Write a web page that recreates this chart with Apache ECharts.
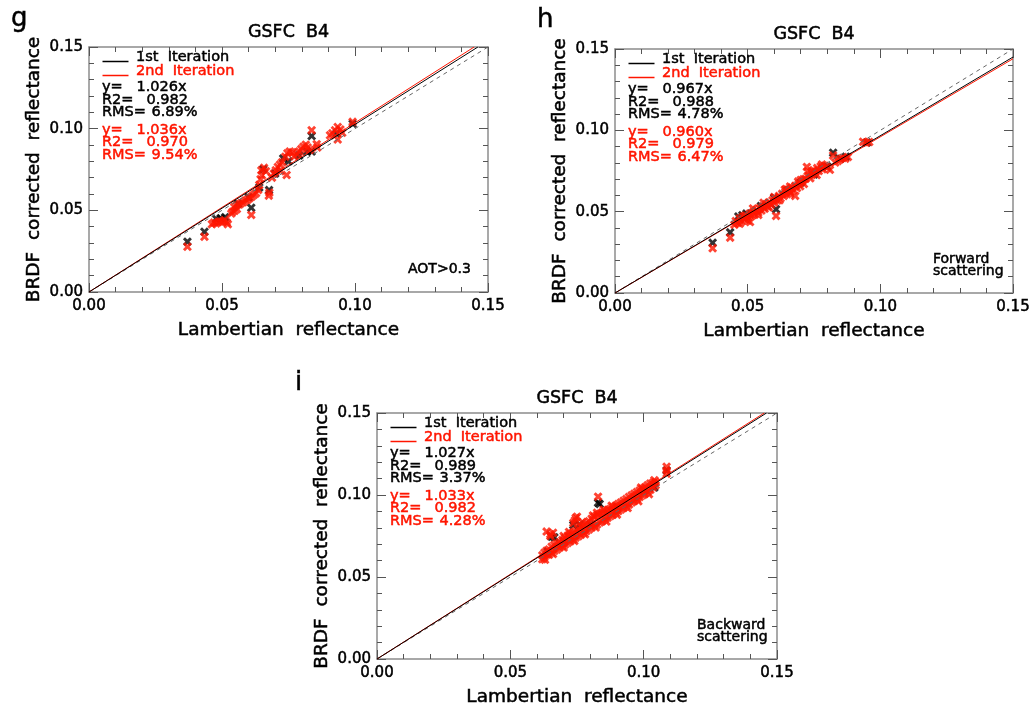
<!DOCTYPE html>
<html><head><meta charset="utf-8">
<script src="https://cdn.jsdelivr.net/npm/echarts@6/dist/echarts.min.js"></script>
<style>html,body{margin:0;padding:0;background:#fff}#c{width:1031px;height:710px}</style>
</head><body><div id="c"></div>
<script>
// ---------------- data ----------------
const panelLetters = ['g', 'h', 'i'];
const panelTitles = ['GSFC  B4', 'GSFC  B4', 'GSFC  B4'];
const panelNotes = [['AOT>0.3'], ['Forward', 'scattering'], ['Backward', 'scattering']];
const tickLabels = ['0.00', '0.05', '0.10', '0.15'];
const xTitle = 'Lambertian  reflectance';
const yTitle = 'BRDF  corrected  reflectance';
const legendNames = ['1st  Iteration', '2nd  Iteration'];

const slope1 = [1.026, 0.967, 1.027];
const r2First = ['0.982', '0.988', '0.989'];
const rmsFirst = ['6.89%', '4.78%', '3.37%'];
const slope2 = [1.036, 0.960, 1.033];
const r2Second = ['0.970', '0.979', '0.982'];
const rmsSecond = ['9.54%', '6.47%', '4.28%'];

const gRed = [[0.0370,0.0277],[0.0434,0.0338],
 [0.0462,0.0415],[0.0470,0.0425],[0.0478,0.0420],[0.0486,0.0428],[0.0494,0.0432],[0.0502,0.0430],[0.0510,0.0440],[0.0518,0.0425],[0.0522,0.0415],
 [0.0535,0.0480],[0.0540,0.0492],[0.0548,0.0498],[0.0556,0.0508],[0.0546,0.0520],[0.0555,0.0530],[0.0565,0.0535],[0.0572,0.0545],[0.0580,0.0550],[0.0588,0.0560],[0.0596,0.0565],[0.0604,0.0575],[0.0612,0.0585],[0.0620,0.0595],[0.0628,0.0605],
 [0.0610,0.0472],
 [0.0636,0.0625],[0.0640,0.0655],[0.0645,0.0690],[0.0650,0.0715],[0.0648,0.0745],[0.0658,0.0760],[0.0665,0.0740],
 [0.0676,0.0590],[0.0678,0.0608],
 [0.0688,0.0700],[0.0695,0.0725],[0.0702,0.0745],[0.0710,0.0765],[0.0718,0.0780],[0.0726,0.0795],[0.0720,0.0740],
 [0.0743,0.0716],
 [0.0738,0.0828],[0.0746,0.0850],[0.0755,0.0860],[0.0765,0.0855],[0.0772,0.0830],
 [0.0782,0.0845],[0.0790,0.0860],[0.0798,0.0875],[0.0806,0.0890],[0.0815,0.0902],[0.0822,0.0885],[0.0830,0.0870],
 [0.0837,0.0990],[0.0856,0.0905],[0.0858,0.0885],
 [0.0906,0.0960],[0.0915,0.0972],[0.0925,0.0990],[0.0935,0.1010],[0.0945,0.0995],[0.0952,0.0975],[0.0935,0.0934],
 [0.0991,0.1042]];
const gBlack = [[0.0370,0.0308],[0.0434,0.0369],[0.0478,0.0448],[0.0495,0.0452],[0.0512,0.0458],[0.0610,0.0516],
 [0.0655,0.0752],[0.0677,0.0624],[0.0837,0.0955],[0.0560,0.0540],[0.0600,0.0580],[0.0640,0.0640],[0.0700,0.0725],
 [0.0730,0.0818],[0.0750,0.0800],[0.0790,0.0835],[0.0820,0.0860],[0.0837,0.0860],[0.0930,0.0970],[0.0991,0.1030]];

const hRed = [[0.0368,0.0275],[0.0434,0.0340],[0.0607,0.0474],
 [0.0450,0.0420],[0.0455,0.0442],[0.0462,0.0430],[0.0470,0.0458],[0.0476,0.0438],[0.0482,0.0468],[0.0490,0.0452],[0.0496,0.0475],
 [0.0502,0.0462],[0.0509,0.0436],[0.0508,0.0488],[0.0515,0.0475],[0.0521,0.0498],[0.0527,0.0482],[0.0533,0.0510],[0.0540,0.0495],
 [0.0546,0.0522],[0.0552,0.0507],[0.0558,0.0533],[0.0564,0.0518],[0.0570,0.0546],[0.0576,0.0532],[0.0582,0.0558],[0.0588,0.0543],
 [0.0594,0.0570],[0.0600,0.0556],[0.0606,0.0582],[0.0612,0.0568],[0.0618,0.0596],[0.0624,0.0582],[0.0630,0.0610],[0.0636,0.0597],
 [0.0642,0.0622],[0.0645,0.0640],[0.0648,0.0607],[0.0654,0.0636],[0.0660,0.0655],[0.0660,0.0620],[0.0666,0.0648],[0.0672,0.0632],
 [0.0679,0.0597],[0.0680,0.0660],[0.0686,0.0645],[0.0690,0.0685],[0.0692,0.0672],[0.0698,0.0656],[0.0705,0.0685],[0.0710,0.0700],
 [0.0712,0.0670],[0.0718,0.0702],[0.0723,0.0775],[0.0726,0.0748],[0.0730,0.0722],[0.0736,0.0705],[0.0742,0.0732],[0.0748,0.0755],
 [0.0755,0.0742],[0.0762,0.0768],[0.0768,0.0750],[0.0775,0.0778],[0.0782,0.0760],[0.0790,0.0782],[0.0800,0.0772],[0.0810,0.0757],
 [0.0822,0.0845],[0.0830,0.0802],[0.0840,0.0812],[0.0848,0.0822],[0.0858,0.0830],[0.0868,0.0826],[0.0878,0.0836],
 [0.0935,0.0930],[0.0946,0.0924],[0.0958,0.0928],
 [0.0470,0.0425],[0.0490,0.0475],[0.0500,0.0445],[0.0520,0.0520],[0.0540,0.0480],[0.0560,0.0555],[0.0580,0.0525],
 [0.0600,0.0590],[0.0620,0.0570],[0.0640,0.0635],[0.0660,0.0610],[0.0700,0.0695],[0.0740,0.0745],[0.0760,0.0725],[0.0780,0.0790]];
const hBlack = [[0.0368,0.0309],[0.0434,0.0373],[0.0607,0.0515],[0.0822,0.0862],[0.0465,0.0470],[0.0480,0.0478],[0.0495,0.0488],
 [0.0550,0.0535],[0.0600,0.0585],[0.0650,0.0630],[0.0700,0.0680],[0.0750,0.0728],[0.0800,0.0778],[0.0850,0.0825],[0.0870,0.0838],[0.0950,0.0925]];

const iRed = [[0.0620,0.0608],[0.0620,0.0632],[0.0628,0.0620],[0.0628,0.0648],[0.0636,0.0636],[0.0636,0.0660],[0.0636,0.0777],
 [0.0645,0.0635],[0.0645,0.0668],[0.0650,0.0760],[0.0650,0.0750],[0.0655,0.0648],[0.0655,0.0685],[0.0660,0.0770],
 [0.0665,0.0660],[0.0665,0.0695],[0.0675,0.0668],[0.0675,0.0705],[0.0685,0.0680],[0.0685,0.0712],[0.0695,0.0688],[0.0695,0.0725],
 [0.0705,0.0698],[0.0705,0.0738],[0.0715,0.0708],[0.0715,0.0752],[0.0725,0.0718],[0.0725,0.0762],
 [0.0736,0.0830],[0.0742,0.0845],[0.0745,0.0860],[0.0750,0.0868],
 [0.0735,0.0728],[0.0735,0.0768],[0.0745,0.0740],[0.0745,0.0780],[0.0755,0.0748],[0.0755,0.0792],[0.0765,0.0758],[0.0765,0.0805],
 [0.0775,0.0770],[0.0775,0.0815],[0.0785,0.0780],[0.0785,0.0828],[0.0795,0.0790],[0.0795,0.0840],[0.0805,0.0802],[0.0805,0.0855],
 [0.0815,0.0812],[0.0815,0.0868],[0.0825,0.0820],[0.0825,0.0878],[0.0825,0.0892],[0.0829,0.0990],
 [0.0835,0.0832],[0.0835,0.0885],[0.0845,0.0842],[0.0845,0.0892],[0.0855,0.0852],[0.0855,0.0898],[0.0865,0.0862],[0.0865,0.0908],
 [0.0875,0.0872],[0.0875,0.0915],[0.0885,0.0880],[0.0885,0.0925],[0.0895,0.0892],[0.0895,0.0935],[0.0905,0.0902],[0.0905,0.0945],
 [0.0915,0.0912],[0.0915,0.0955],[0.0925,0.0922],[0.0925,0.0965],[0.0935,0.0932],[0.0935,0.0975],[0.0945,0.0942],[0.0945,0.0988],
 [0.0955,0.0955],[0.0955,0.0998],[0.0965,0.0965],[0.0965,0.1008],[0.0975,0.0975],[0.0975,0.1018],[0.0985,0.0988],[0.0985,0.1028],
 [0.0995,0.0998],[0.0995,0.1038],[0.1005,0.1008],[0.1005,0.1048],[0.1015,0.1020],[0.1015,0.1060],[0.1025,0.1032],[0.1025,0.1070],
 [0.1035,0.1048],[0.1035,0.1075],[0.1045,0.1060],[0.1045,0.1080],
 [0.1086,0.1130],[0.1086,0.1150],[0.1086,0.1172],
 [0.0630,0.0605],[0.0660,0.0640],[0.0700,0.0680],[0.0740,0.0720],[0.0780,0.0760],[0.0820,0.0802],[0.0860,0.0838],
 [0.0900,0.0880],[0.0940,0.0920],[0.0980,0.0962],[0.1020,0.1005],
 [0.0700,0.0750],[0.0720,0.0775],[0.0770,0.0835],[0.0810,0.0875],[0.0850,0.0910],[0.0880,0.0935],[0.0990,0.1045],[0.1040,0.1090]];
const iBlack = [[0.0655,0.0745],[0.0665,0.0742],[0.0736,0.0817],[0.0760,0.0820],[0.0829,0.0952],[0.0835,0.0945],[0.1086,0.1150],
 [0.0640,0.0655],[0.0700,0.0718],[0.0800,0.0820],[0.0900,0.0925],[0.1000,0.1027],[0.1040,0.1045]];

const redSets = [gRed, hRed, iRed];
const blackSets = [gBlack, hBlack, iBlack];

// ---------------- layout / style ----------------
const AX_MIN = 0, AX_MAX = 0.15, AX_INT = 0.05;
const grids = [
  {left: 89, top: 47, width: 399, height: 245},
  {left: 615, top: 49, width: 398, height: 244},
  {left: 377, top: 413, width: 400, height: 246}
];
const RED = '#ff1500';
const FONT = 'DejaVu Sans';
const XPATH = 'path://M0,2.3L2.3,0L5,2.7L7.7,0L10,2.3L7.3,5L10,7.7L7.7,10L5,7.3L2.3,10L0,7.7L2.7,5Z';
const MSIZE = 9;

function axisBase(gi, pos, showLabel) {
  return {
    type: 'value', gridIndex: gi, position: pos, min: AX_MIN, max: AX_MAX, interval: AX_INT,
    axisLine: {show: true, onZero: false, lineStyle: {color: '#8c8c8c', width: 1.5}},
    axisTick: {show: true, inside: true, length: 9, lineStyle: {color: '#555', width: 1}},
    minorTick: {show: true, splitNumber: 5, length: 5, lineStyle: {color: '#555', width: 1}},
    splitLine: {show: false}, minorSplitLine: {show: false},
    axisLabel: {show: showLabel, showMinLabel: true, showMaxLabel: true, hideOverlap: false,
      fontFamily: FONT, fontSize: 15, color: '#000', textBorderColor: '#000', textBorderWidth: 0.5,
      formatter: v => tickLabels[Math.round((v - AX_MIN) / AX_INT)]},
    nameTextStyle: {fontFamily: FONT, fontSize: 18.5, color: '#000', textBorderColor: '#000', textBorderWidth: 0.5}
  };
}

const xAxis = [], yAxis = [], series = [], graphic = [];
grids.forEach((g, p) => {
  const xb = axisBase(p, 'bottom', true);
  xb.axisLabel.margin = 7;
  xb.name = xTitle; xb.nameLocation = 'middle'; xb.nameGap = 29;
  xAxis.push(xb, axisBase(p, 'top', false));
  const yl = axisBase(p, 'left', true);
  yl.axisLabel.margin = 6;
  yl.name = yTitle; yl.nameLocation = 'middle'; yl.nameGap = 45;
  yAxis.push(yl, axisBase(p, 'right', false));

  const xi = 2 * p, yi = 2 * p;
  series.push({type: 'scatter', xAxisIndex: xi, yAxisIndex: yi, data: blackSets[p], symbol: XPATH,
    symbolSize: MSIZE, itemStyle: {color: '#000'}, z: 2, silent: true});
  series.push({type: 'scatter', xAxisIndex: xi, yAxisIndex: yi, data: redSets[p], symbol: XPATH,
    symbolSize: MSIZE, itemStyle: {color: RED}, z: 3, silent: true});
  const lineEnd = s => { const xe = Math.min(AX_MAX, AX_MAX / s); return [[0, 0], [xe, s * xe]]; };
  series.push({type: 'line', xAxisIndex: xi, yAxisIndex: yi, data: lineEnd(1), symbol: 'none', clip: true,
    lineStyle: {color: '#666', width: 1, type: [4, 4]}, z: 4, silent: true});
  series.push({type: 'line', xAxisIndex: xi, yAxisIndex: yi, data: lineEnd(slope2[p]), symbol: 'none', clip: true,
    lineStyle: {color: RED, width: 1}, z: 5, silent: true});
  series.push({type: 'line', xAxisIndex: xi, yAxisIndex: yi, data: lineEnd(slope1[p]), symbol: 'none', clip: true,
    lineStyle: {color: '#000', width: 1}, z: 6, silent: true});

  const txt = (x, y, text, color, size, align) => ({type: 'text', x: x, y: y, silent: true, z: 10,
    style: {text: text, fill: color, font: size + 'px "' + FONT + '"', textAlign: align || 'left',
      textVerticalAlign: 'middle', stroke: color, lineWidth: 0.5}});
  // title
  graphic.push(txt(g.left + g.width / 2, g.top - 14.5, panelTitles[p], '#000', 17.5, 'center'));
  // panel letter
  const letterPos = [[11, 19], [537, 20], [295, 383]][p];
  graphic.push(txt(letterPos[0], letterPos[1], panelLetters[p], '#000', 26, 'left'));
  // legend
  const L = g.left, T = g.top;
  graphic.push({type: 'line', silent: true, z: 10, shape: {x1: L + 13.5, y1: T + 14.5, x2: L + 39.5, y2: T + 14.5}, style: {stroke: '#000', lineWidth: 1.5}});
  graphic.push({type: 'line', silent: true, z: 10, shape: {x1: L + 13.5, y1: T + 28.5, x2: L + 39.5, y2: T + 28.5}, style: {stroke: RED, lineWidth: 1.5}});
  graphic.push(txt(L + 47, T + 10.5, legendNames[0], '#000', 14.5));
  graphic.push(txt(L + 47, T + 24, legendNames[1], RED, 14.5));
  const rows = [
    [T + 40.5, 'y=', slope1[p].toFixed(3) + 'x', 47.5, '#000'],
    [T + 53, 'R2=', r2First[p], 57.5, '#000'],
    [T + 65.5, 'RMS=', rmsFirst[p], 62.5, '#000'],
    [T + 83, 'y=', slope2[p].toFixed(3) + 'x', 47.5, RED],
    [T + 95.5, 'R2=', r2Second[p], 57.5, RED],
    [T + 108, 'RMS=', rmsSecond[p], 62.5, RED]
  ];
  rows.forEach(r => {
    graphic.push(txt(L + 13, r[0], r[1], r[4], 14.5));
    graphic.push(txt(L + r[3], r[0], r[2], r[4], 14.5));
  });
  // note
  const B = g.top + g.height, R = g.left + g.width;
  const notes = panelNotes[p];
  if (notes.length === 1) {
    graphic.push(txt(R - 80, B - 23, notes[0], '#000', 14));
  } else {
    graphic.push(txt(R - 80, B - 33.5, notes[0], '#000', 14));
    graphic.push(txt(R - 80, B - 21.5, notes[1], '#000', 14));
  }
});

const chart = echarts.init(document.getElementById('c'), null, {renderer: 'canvas'});
chart.setOption({
  animation: false,
  backgroundColor: '#fff',
  grid: grids.map(g => Object.assign({outerBoundsMode: 'none', containLabel: false}, g)),
  xAxis: xAxis,
  yAxis: yAxis,
  series: series,
  graphic: graphic
});
</script>
</body></html>
